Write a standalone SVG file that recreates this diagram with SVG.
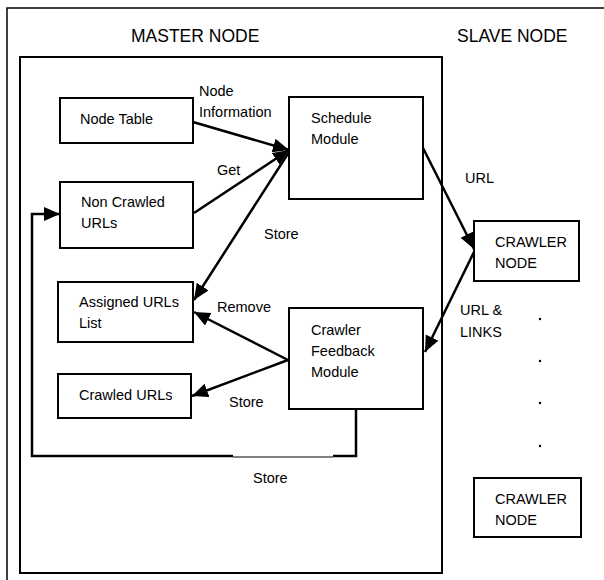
<svg xmlns="http://www.w3.org/2000/svg" width="604" height="580" viewBox="0 0 604 580">
<style>
text{font-family:"Liberation Sans",Arial,sans-serif;font-size:14.5px;fill:#000}
.title{font-size:17.5px}
.box{fill:#fff;stroke:#000;stroke-width:2}
.con{fill:none;stroke:#000;stroke-width:2.5}
</style>
<defs>
<marker id="ah" markerUnits="userSpaceOnUse" markerWidth="18" markerHeight="16" refX="16" refY="7" orient="auto">
<path d="M0,0 L16,7 L0,14 Z" fill="#000"/>
</marker>
</defs>
<rect x="7" y="8" width="620" height="600" fill="none" stroke="#000" stroke-width="1.5"/>
<text class="title" x="131" y="42">MASTER NODE</text>
<text class="title" x="457" y="42">SLAVE NODE</text>
<rect id="master" x="20" y="57" width="422" height="516" fill="none" stroke="#000" stroke-width="2"/>
<g id="connectors">
<line class="con" x1="193" y1="122" x2="289" y2="150" marker-end="url(#ah)"/>
<line class="con" x1="194" y1="213" x2="289" y2="150" marker-end="url(#ah)"/>
<line class="con" x1="289" y1="152" x2="194" y2="300" marker-end="url(#ah)"/>
<line class="con" x1="288" y1="360" x2="194" y2="312" marker-end="url(#ah)"/>
<line class="con" x1="288" y1="360" x2="192" y2="396" marker-end="url(#ah)"/>
<line class="con" x1="423" y1="148" x2="474" y2="249" marker-end="url(#ah)"/>
<line class="con" x1="474" y1="252" x2="425" y2="352" marker-end="url(#ah)"/>
<polyline class="con" points="233,456 32,456 32,214 60,214" marker-end="url(#ah)"/>
<polyline class="con" points="333,456 356,456 356,409"/>
<line x1="233" y1="457" x2="333" y2="457" stroke="#000" stroke-width="1"/>
</g>
<g id="node-table"><rect class="box" x="60" y="98" width="133" height="45"/><text x="80" y="124">Node Table</text></g>
<g id="schedule"><rect class="box" x="289" y="97" width="134" height="102"/><text x="311" y="123">Schedule</text><text x="311" y="144">Module</text></g>
<g id="non-crawled"><rect class="box" x="60" y="182" width="133" height="66"/><text x="81" y="207">Non Crawled</text><text x="81" y="228">URLs</text></g>
<g id="assigned"><rect class="box" x="58" y="282" width="135" height="60"/><text x="79" y="307">Assigned URLs</text><text x="79" y="328">List</text></g>
<g id="feedback"><rect class="box" x="289" y="308" width="134" height="101"/><text x="311" y="335">Crawler</text><text x="311" y="356">Feedback</text><text x="311" y="377">Module</text></g>
<g id="crawled"><rect class="box" x="58" y="374" width="133" height="44"/><text x="79" y="400">Crawled URLs</text></g>
<g id="crawler1"><rect class="box" x="474" y="221" width="105" height="60"/><text x="495" y="247">CRAWLER</text><text x="495" y="268">NODE</text></g>
<g id="crawler2"><rect class="box" x="474" y="478" width="107" height="59"/><text x="495" y="504">CRAWLER</text><text x="495" y="525">NODE</text></g>
<g id="labels">
<text x="199" y="96">Node</text><text x="199" y="117">Information</text>
<text x="217" y="175">Get</text>
<text x="465" y="183">URL</text>
<text x="264" y="239">Store</text>
<text x="217" y="312">Remove</text>
<text x="460" y="315">URL &amp;</text><text x="460" y="337">LINKS</text>
<text x="229" y="407">Store</text>
<text x="253" y="483">Store</text>
</g>
<g id="dots" fill="#000">
<circle cx="540" cy="319" r="1.2"/><circle cx="540" cy="361" r="1.2"/><circle cx="540" cy="403" r="1.2"/><circle cx="540" cy="446" r="1.2"/>
</g>
</svg>
